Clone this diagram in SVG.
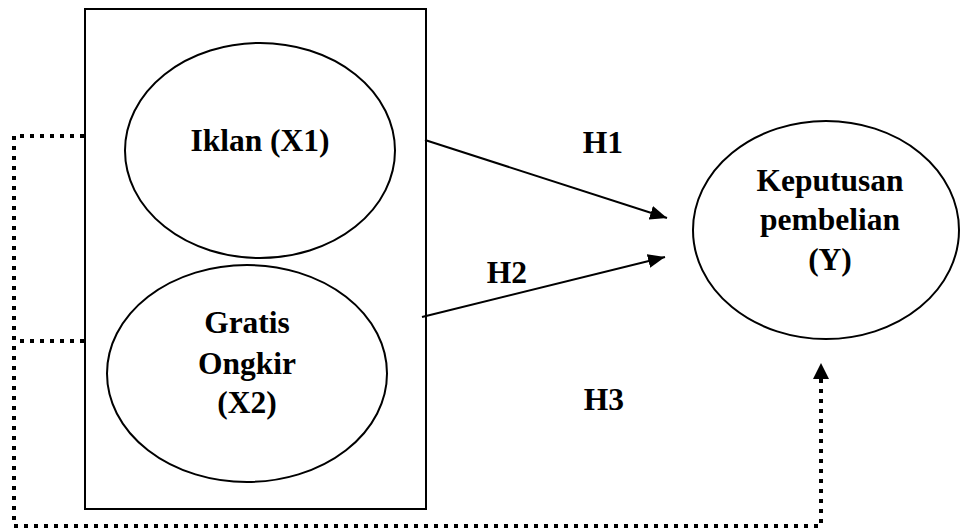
<svg xmlns="http://www.w3.org/2000/svg" width="961" height="529" viewBox="0 0 961 529">
<style>
.shape{fill:#fff;stroke:#000;stroke-width:2}
.lbl{font-family:"Liberation Serif","Times New Roman",serif;font-weight:bold;font-size:31.5px;fill:#000;text-anchor:middle}
.solid{fill:none;stroke:#000;stroke-width:2}
.dot{fill:none;stroke:#000;stroke-width:4;stroke-dasharray:4 6}
</style>
<defs>
<marker id="arr" markerUnits="userSpaceOnUse" markerWidth="18" markerHeight="14" refX="17" refY="7" orient="auto">
<path d="M0,0 L17,7 L0,14 Z" fill="#000"/>
</marker>
</defs>
<rect x="85" y="9" width="341" height="500" fill="#fff" stroke="#000" stroke-width="2"/>
<g id="connectors">
<line class="solid" x1="425" y1="140" x2="667" y2="218" marker-end="url(#arr)"/>
<line class="solid" x1="422" y1="317" x2="665" y2="257" marker-end="url(#arr)"/>
<path class="dot" d="M84,136 H14 V526 H821 V379"/>
<path d="M813,379 L821,363 L829,379 Z" fill="#000"/>
<path class="dot" d="M84,341 H14"/>
</g>
<g id="x1">
<ellipse class="shape" cx="260" cy="150.5" rx="135" ry="107.5"/>
<text class="lbl" x="260" y="151">Iklan (X1)</text>
</g>
<g id="x2">
<ellipse class="shape" cx="247" cy="373.5" rx="140" ry="108.5"/>
<text class="lbl" x="247" y="333">Gratis</text>
<text class="lbl" x="247" y="374">Ongkir</text>
<text class="lbl" x="247" y="413">(X2)</text>
</g>
<g id="y">
<ellipse class="shape" cx="826" cy="230" rx="133" ry="109"/>
<text class="lbl" x="830" y="191">Keputusan</text>
<text class="lbl" x="830" y="230">pembelian</text>
<text class="lbl" x="830" y="270">(Y)</text>
</g>
<g id="labels">
<text class="lbl" x="603" y="153">H1</text>
<text class="lbl" x="507" y="283">H2</text>
<text class="lbl" x="604" y="410">H3</text>
</g>
</svg>
